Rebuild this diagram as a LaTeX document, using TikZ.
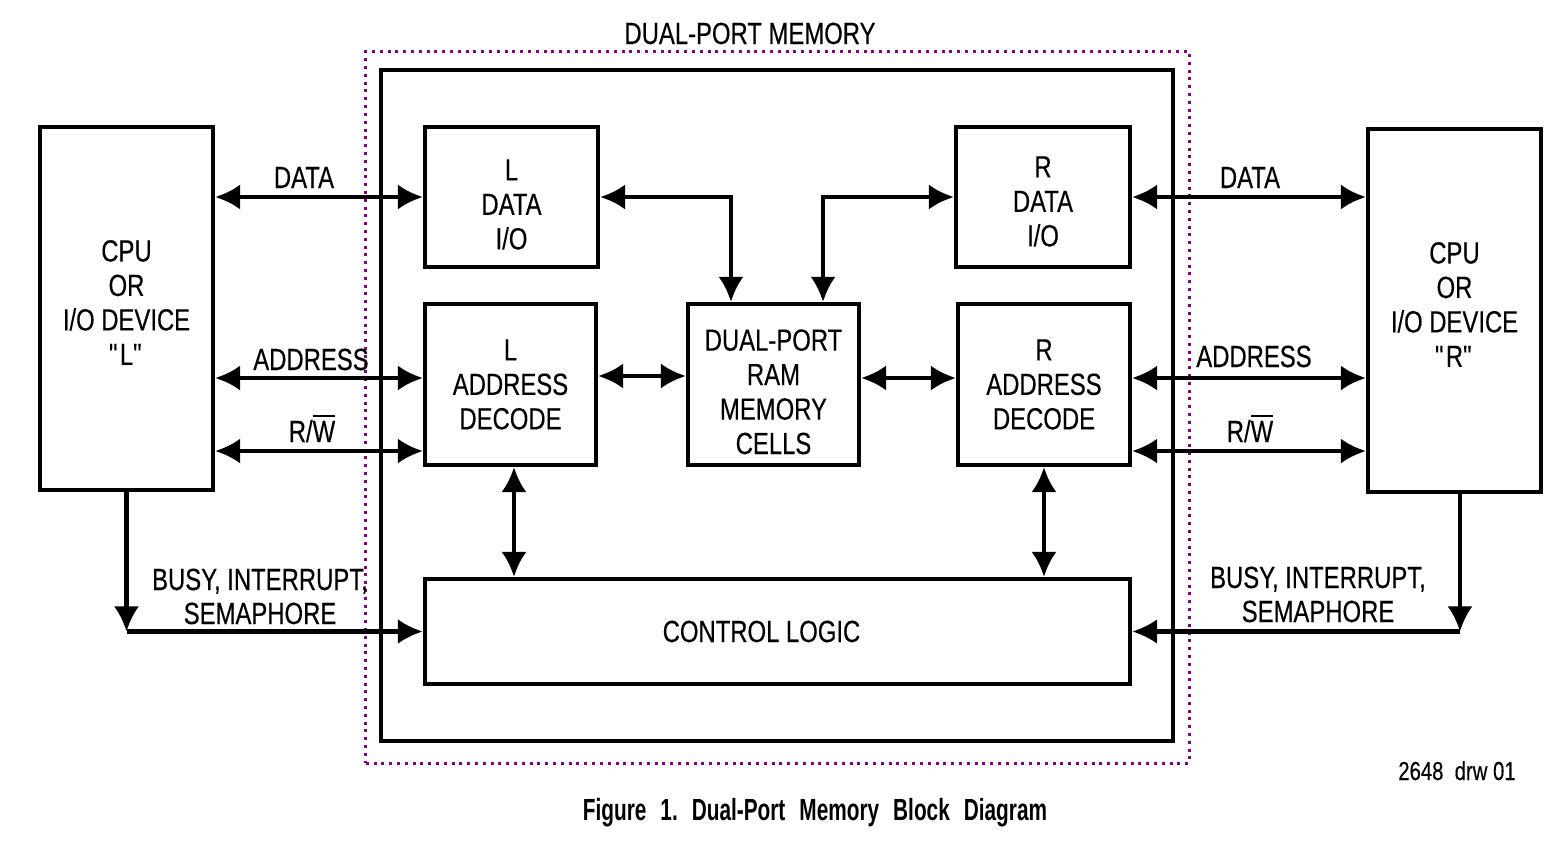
\documentclass[tikz,border=0pt]{standalone}
\usepackage{fontspec}
\setmainfont{Liberation Sans}[FakeStretch=0.78,UprightFeatures={FakeBold=0.3}]
\newfontfamily\capfont{Liberation Sans}[FakeStretch=0.68]
\usetikzlibrary{arrows.meta}
\definecolor{dotpurple}{RGB}{128,0,128}
\begin{document}
\begin{tikzpicture}[x=0.01cm,y=-0.01cm,
  every node/.style={font=\fontsize{8.7}{9.8}\selectfont},
  blk/.style={draw,line width=1.15pt,inner sep=0pt,align=center},
  conn/.style={line width=1.15pt,{Latex[length=0.25cm,width=0.25cm]}-{Latex[length=0.25cm,width=0.25cm]}},
  oneway/.style={line width=1.15pt,-{Latex[length=0.25cm,width=0.25cm]}},
  lbl/.style={inner sep=0pt,anchor=base}]
\useasboundingbox (0,0) rectangle (1562,848);
% dotted frame and outer box
\node[draw=dotpurple,line width=0.03cm,dash pattern=on 0.03cm off 0.048cm,minimum width=8.23cm,minimum height=7.11cm,inner sep=0pt] (frame) at (777.5,407.5) {};
\node[blk,minimum width=7.92cm,minimum height=6.71cm] (dpm) at (777,405.5) {};
\node[lbl] (title) at (750,44) {DUAL-PORT MEMORY};
% CPUs
\node[blk,minimum width=1.73cm,minimum height=3.63cm] (lcpu) at (126.5,308.5) {CPU\\OR\\I/O DEVICE\\\textquotedbl L\textquotedbl\rule[-0.12cm]{0pt}{0pt}};
\node[blk,minimum width=1.73cm,minimum height=3.63cm] (rcpu) at (1454.5,310.5) {CPU\\OR\\I/O DEVICE\\\textquotedbl R\textquotedbl\rule[-0.12cm]{0pt}{0pt}};
% inner blocks
\node[blk,minimum width=1.73cm,minimum height=1.40cm] (ld) at (511.5,197) {\rule{0pt}{0.36cm}L\\DATA\\I/O};
\node[blk,minimum width=1.74cm,minimum height=1.40cm] (rd) at (1043,197) {\rule{0pt}{0.30cm}R\\DATA\\I/O};
\node[blk,minimum width=1.71cm,minimum height=1.61cm] (la) at (510.5,384.5) {L\\ADDRESS\\DECODE};
\node[blk,minimum width=1.71cm,minimum height=1.61cm] (ram) at (773.5,384.5) {\rule{0pt}{0.36cm}DUAL-PORT\\RAM\\MEMORY\\CELLS};
\node[blk,minimum width=1.72cm,minimum height=1.61cm] (ra) at (1044,384.5) {R\\ADDRESS\\DECODE};
\node[blk,minimum width=7.05cm,minimum height=1.05cm] (cl) at (777.5,631.5) {\hspace*{-0.32cm}CONTROL LOGIC};
% left side buses
\draw[conn] (lcpu.east |- ld.west) -- (ld.west);
\draw[conn] ([yshift=0.065cm]la.west -| lcpu.east) -- ([yshift=0.065cm]la.west);
\draw[conn] ([yshift=-0.665cm]la.west -| lcpu.east) -- ([yshift=-0.665cm]la.west);
\node[lbl] (ldata) at (304,188) {DATA};
\node[lbl] (laddr) at (311,370) {ADDRESS};
\node[lbl] (lrw) at (312,442) {R/$\overline{\mbox{W}}$};
% right side buses
\draw[conn] (rd.east) -- (rcpu.west |- rd.east);
\draw[conn] ([yshift=0.065cm]ra.east) -- ([yshift=0.065cm]ra.east -| rcpu.west);
\draw[conn] ([yshift=-0.665cm]ra.east) -- ([yshift=-0.665cm]ra.east -| rcpu.west);
\node[lbl] (rdata) at (1250,188) {DATA};
\node[lbl] (raddr) at (1254,367) {ADDRESS};
\node[lbl] (rrw) at (1250,442) {R/$\overline{\mbox{W}}$};
% data I/O to RAM
\draw[conn] (ld.east) -| ([xshift=-0.425cm]ram.north);
\draw[conn] (rd.west) -| ([xshift=0.495cm]ram.north);
% address decode to RAM
\draw[conn] ([yshift=0.085cm]la.east) -- ([yshift=0.085cm]ram.west);
\draw[conn] ([yshift=0.065cm]ram.east) -- ([yshift=0.065cm]ra.west);
% address decode to control
\draw[conn] ([xshift=0.035cm]la.south) -- ([xshift=0.035cm]la.south |- cl.north);
\draw[conn] (ra.south) -- (ra.south |- cl.north);
% busy lines
\coordinate (lcorner) at (lcpu.south |- cl.west);
\coordinate (rcorner) at ([xshift=0.055cm]rcpu.south |- cl.east);
\draw[oneway] (lcpu.south) -- (lcorner);
\draw[oneway] (lcorner) -- (cl.west);
\draw[oneway] ([xshift=0.055cm]rcpu.south) -- (rcorner);
\draw[oneway] (rcorner) -- (cl.east);
\node[lbl] (lbusy) at (260,590) {BUSY, INTERRUPT,};
\node[lbl] (lsema) at (260,624) {SEMAPHORE};
\node[lbl] (rbusy) at (1318,588) {BUSY, INTERRUPT,};
\node[lbl] (rsema) at (1318,622) {SEMAPHORE};
% captions
\node[lbl,font=\fontsize{7.4}{8}\selectfont] (drw) at (1457,780) {2648\ \ drw 01};
\node[lbl,font=\capfont\bfseries\fontsize{8.7}{9.8}\selectfont] (cap) at (815,820) {Figure\hspace{0.14cm}1.\hspace{0.14cm}Dual-Port\hspace{0.14cm}Memory\hspace{0.14cm}Block\hspace{0.14cm}Diagram};
\end{tikzpicture}
\end{document}
